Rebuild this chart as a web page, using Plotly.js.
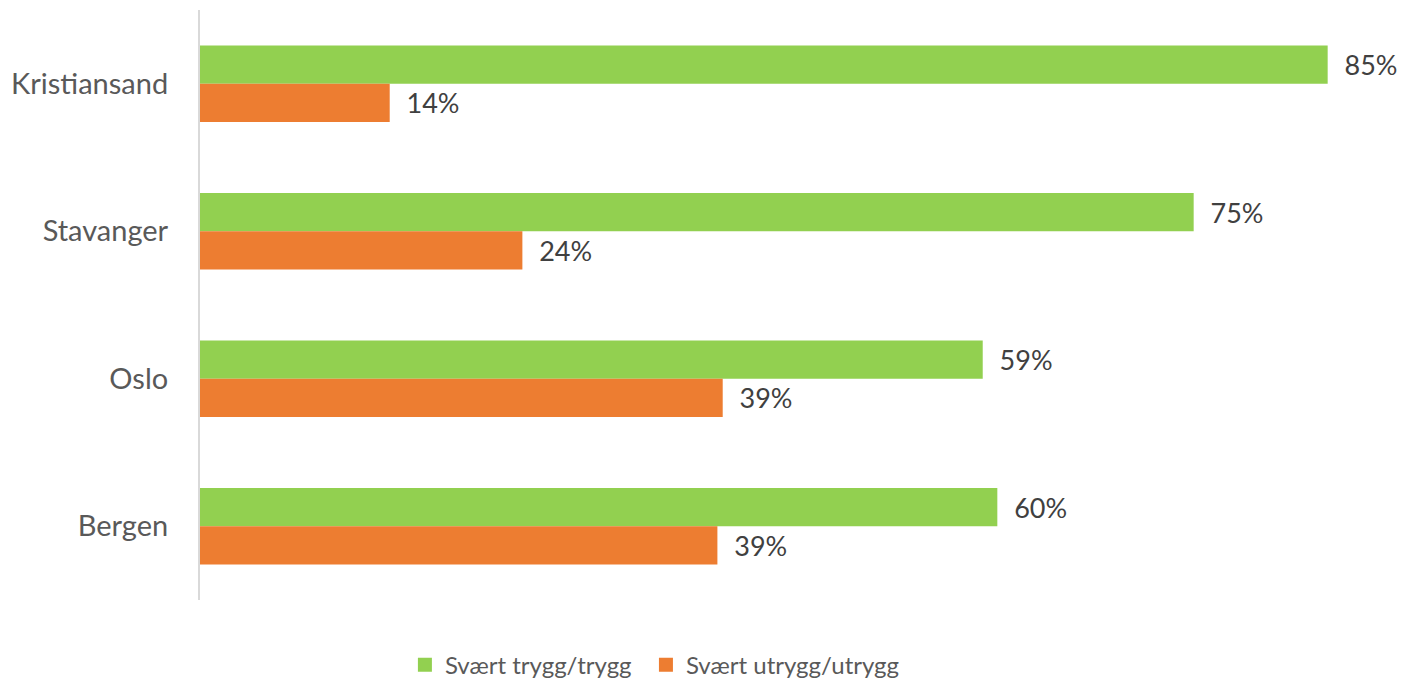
<!DOCTYPE html>
<html>
<head>
<meta charset="utf-8">
<script src="https://cdn.plot.ly/plotly-3.0.1.min.js"></script>
<style>html,body{margin:0;padding:0;background:#fff;}</style>
</head>
<body>
<div id="chart" style="width:1403px;height:680px;"></div>
<script>
var cities = ["Kristiansand", "Stavanger", "Oslo", "Bergen"];
var tryggValues = [85.0, 74.9, 59.0, 60.1];
var utryggValues = [14.3, 24.3, 39.4, 39.0];
var seriesNames = ["Svært trygg/trygg", "Svært utrygg/utrygg"];
var seriesColors = ["#92D050", "#ED7D31"];

var FONT = "Lato, 'Open Sans', sans-serif";

function barTrace(name, vals, color) {
  return {
    type: "bar", orientation: "h", name: name,
    y: cities, x: vals,
    marker: {color: color},
    texttemplate: "\u00a0\u00a0%{x:.0f}%", textposition: "outside",
    textfont: {family: FONT, size: 27, color: "#404040"},
    cliponaxis: false, showlegend: false, hoverinfo: "x+y"
  };
}
function legendTrace(name, color, legendId) {
  return {
    type: "scatter", mode: "markers", name: name,
    x: [null], y: [null],
    marker: {symbol: "square", size: 14, color: color},
    showlegend: true, legend: legendId, hoverinfo: "skip"
  };
}

var traces = [
  barTrace(seriesNames[0], tryggValues, seriesColors[0]),
  barTrace(seriesNames[1], utryggValues, seriesColors[1]),
  legendTrace(seriesNames[0], seriesColors[0], "legend"),
  legendTrace(seriesNames[1], seriesColors[1], "legend2")
];

function legendBox(xpos) {
  return {
    orientation: "h", xref: "container", yref: "container",
    x: xpos, xanchor: "left", y: 0.022, yanchor: "middle",
    font: {family: FONT, size: 24, color: "#595959"},
    itemwidth: 30, bgcolor: "rgba(0,0,0,0)"
  };
}

var layout = {
  width: 1403, height: 680,
  margin: {l: 200, r: 9, t: 10, b: 80},
  paper_bgcolor: "#fff", plot_bgcolor: "#fff",
  font: {family: FONT, color: "#595959", size: 26},
  barmode: "group", bargap: 0.48, bargroupgap: 0,
  xaxis: {range: [0, 90], showgrid: false, zeroline: false, showticklabels: false, ticks: "", showline: false, fixedrange: true},
  yaxis: {
    categoryorder: "array", categoryarray: cities, autorange: "reversed",
    showgrid: false, zeroline: false, ticks: "", showline: true,
    linecolor: "#d9d9d9", linewidth: 2, ticklabelstandoff: 24,
    tickfont: {family: FONT, size: 29, color: "#595959"}
  },
  showlegend: true,
  legend: legendBox(0.2886),
  legend2: legendBox(0.4604)
};

Plotly.newPlot("chart", traces, layout, {displayModeBar: false, staticPlot: true});
</script>
</body>
</html>
